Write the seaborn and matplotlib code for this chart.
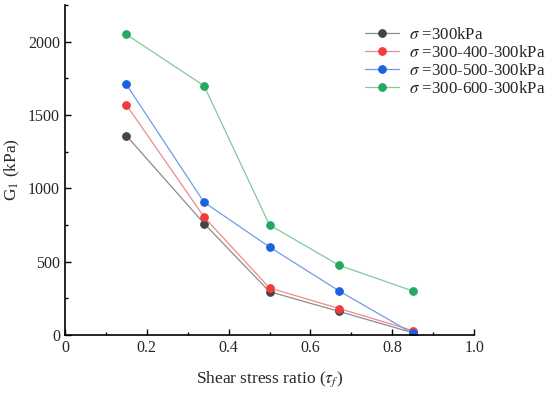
import numpy as np
import pandas as pd
import matplotlib
matplotlib.use("Agg")
import matplotlib.pyplot as plt
import seaborn as sns
from matplotlib.ticker import MultipleLocator

tau = [0.15, 0.34, 0.50, 0.67, 0.85]
g_300 = [1360, 760, 295, 160, 15]
g_300_400 = [1570, 805, 320, 180, 30]
g_300_500 = [1710, 905, 600, 300, 10]
g_300_600 = [2050, 1700, 750, 475, 300]

labels = [r"$\sigma$ =300kPa", r"$\sigma$ =300-400-300kPa",
          r"$\sigma$ =300-500-300kPa", r"$\sigma$ =300-600-300kPa"]
series = [g_300, g_300_400, g_300_500, g_300_600]
marker_colors = ["#454545", "#f03c3c", "#1c62e0", "#27a862"]
line_colors = ["#8c8c8c", "#f08a8a", "#6f9be6", "#82c8a0"]

sns.set_theme(style="ticks")
plt.rcParams["font.family"] = ["Liberation Serif", "DejaVu Serif"]
plt.rcParams["mathtext.fontset"] = "stix"

fig = plt.figure(figsize=(5.5, 3.94), dpi=100)
ax = fig.add_axes([0.118, 0.150, 0.744, 0.837])

for vals, lab, mc, lc in zip(series, labels, marker_colors, line_colors):
    df = pd.DataFrame({"tau": tau, "G": vals})
    sns.lineplot(data=df, x="tau", y="G", ax=ax, color=lc, linewidth=0.9,
                 marker="o", markersize=5.5, markerfacecolor=mc,
                 markeredgecolor=mc, label=lab)

ax.set_xlim(0, 1.0)
ax.set_ylim(0, 2250)
ax.xaxis.set_minor_locator(MultipleLocator(0.1))
ax.yaxis.set_major_locator(MultipleLocator(500))
ax.yaxis.set_minor_locator(MultipleLocator(250))
ax.set_xticks([0, 0.2, 0.4, 0.6, 0.8, 1.0])
ax.set_xticklabels(["0", "0.2", "0.4", "0.6", "0.8", "1.0"])
ax.tick_params(which="both", direction="in", color="black", labelsize=11.5)
ax.tick_params(which="major", length=4, width=1)
ax.tick_params(which="minor", length=2.5, width=1)
for s in ["left", "bottom"]:
    ax.spines[s].set_linewidth(1.2)
    ax.spines[s].set_color("black")
sns.despine(ax=ax)

ax.set_xlabel(r"Shear stress ratio ($\tau_f$)", fontsize=12.5, labelpad=10)
ax.set_ylabel(r"G$_1$ (kPa)", fontsize=12.5)

ax.legend(loc="upper left", bbox_to_anchor=(0.733, 0.935), frameon=False,
          fontsize=12.2, handlelength=2.0, handletextpad=0.6,
          labelspacing=0.12, borderaxespad=0, borderpad=0)

fig.savefig("out.png", dpi=100)
